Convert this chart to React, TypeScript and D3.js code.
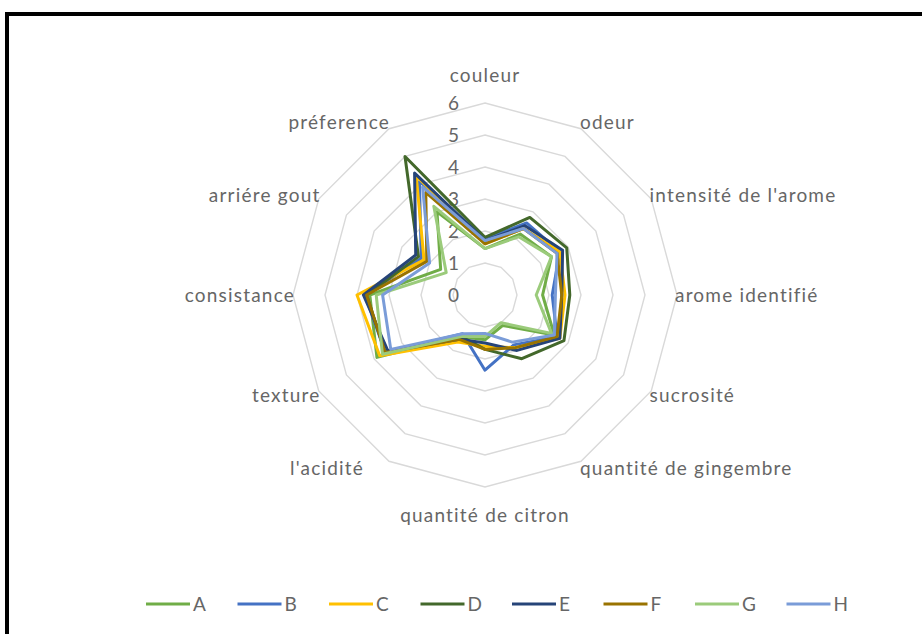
import React from 'react'
import * as d3 from 'd3'

// axes of the radar, clockwise from the top
const axes = [
  'couleur',
  'odeur',
  "intensité de l'arome",
  'arome identifié',
  'sucrosité',
  'quantité de gingembre',
  'quantité de citron',
  "l'acidité",
  'texture',
  'consistance',
  'arriére gout',
  'préference'
]

const ticks = [0, 1, 2, 3, 4, 5, 6]

const seriesNames = ['A', 'B', 'C', 'D', 'E', 'F', 'G', 'H']
const seriesColors = ['#70AD47', '#4472C4', '#FFC000', '#43682B', '#264478', '#997300', '#9BCB7B', '#7A9CD8']

// values, one list per series
const A = [1.45, 2.2, 2.4, 1.8, 2.5, 1.1, 1.4, 1.5, 3.9, 3.6, 1.6, 3.0]
const B = [1.75, 2.6, 2.7, 2.1, 2.6, 1.8, 2.35, 1.4, 3.6, 3.75, 2.3, 4.1]
const C = [1.6, 2.4, 2.7, 2.5, 2.7, 1.9, 1.6, 1.7, 3.8, 4.0, 2.2, 4.3]
const D = [1.8, 2.8, 2.95, 2.65, 2.85, 2.3, 1.7, 1.5, 3.6, 3.7, 2.4, 5.0]
const E = [1.7, 2.5, 2.8, 2.4, 2.7, 2.0, 1.5, 1.6, 3.5, 3.8, 2.5, 4.4]
const F = [1.6, 2.4, 2.6, 2.4, 2.6, 1.9, 1.7, 1.6, 3.6, 3.7, 2.1, 3.7]
const G = [1.45, 2.1, 2.4, 1.6, 2.4, 1.0, 1.3, 1.5, 3.7, 3.4, 1.4, 3.2]
const H = [1.7, 2.4, 2.6, 2.2, 2.5, 1.7, 1.2, 1.4, 3.4, 3.2, 2.0, 3.9]
const seriesValues = [A, B, C, D, E, F, G, H]

export default function App() {
  const width = 922
  const height = 634
  const cx = 485
  const cy = 295
  const font = "Lato, 'Open Sans', sans-serif"
  const grey = '#666666'

  const r = d3.scaleLinear().domain([0, 6]).range([0, 192])
  const angle = d3
    .scalePoint<number>()
    .domain(d3.range(axes.length + 1))
    .range([0, 2 * Math.PI])

  const line = d3
    .lineRadial<number>()
    .angle((d, i) => angle(i) as number)
    .radius(d => r(d))
    .curve(d3.curveLinearClosed)

  const ring = (v: number) => line(axes.map(() => v)) as string

  const labelPos = (i: number) => {
    const a = angle(i) as number
    const s = Math.sin(a)
    const c = Math.cos(a)
    if (Math.abs(s) < 0.01) {
      return { x: cx, y: cy - c * 220, anchor: 'middle' }
    }
    // lower-left label sits further out in the original
    const shift = s < 0 && c < -0.8 ? -26 : 0
    return {
      x: cx + s * 190 + shift,
      y: cy - c * 200,
      anchor: s > 0 ? 'start' : 'end'
    }
  }

  return (
    <svg
      width={width}
      height={height}
      style={{ position: 'absolute', left: 0, top: 0, background: '#fff' }}
    >
      <rect x={7} y={14} width={width + 20} height={height + 20} fill="#fff" stroke="#000" strokeWidth={4} />

      <g transform={`translate(${cx},${cy})`}>
        {ticks.slice(1).map(t => (
          <path key={t} d={ring(t)} fill="none" stroke="#D9D9D9" strokeWidth={1.4} />
        ))}
      </g>

      {ticks.map(t => (
        <text
          key={t}
          x={cx - 26}
          y={cy - r(t)}
          dy="0.36em"
          textAnchor="end"
          fontFamily={font}
          fontSize={19}
          fill={grey}
        >
          {t}
        </text>
      ))}

      <g transform={`translate(${cx},${cy})`}>
        {seriesValues.map((vals, k) => (
          <path
            key={seriesNames[k]}
            d={line(vals) as string}
            fill="none"
            stroke={seriesColors[k]}
            strokeWidth={3}
            strokeLinejoin="round"
          />
        ))}
      </g>

      {axes.map((name, i) => {
        const p = labelPos(i)
        return (
          <text
            key={name}
            x={p.x}
            y={p.y}
            dy="0.36em"
            textAnchor={p.anchor}
            fontFamily={font}
            fontSize={19}
            letterSpacing={1.2}
            fill={grey}
          >
            {name}
          </text>
        )
      })}

      {seriesNames.map((name, k) => {
        const x0 = 146 + k * 91.5
        return (
          <g key={name}>
            <line x1={x0} x2={x0 + 44} y1={604} y2={604} stroke={seriesColors[k]} strokeWidth={3} />
            <text x={x0 + 47} y={604} dy="0.36em" fontFamily={font} fontSize={19} fill={grey}>
              {name}
            </text>
          </g>
        )
      })}
    </svg>
  )
}
